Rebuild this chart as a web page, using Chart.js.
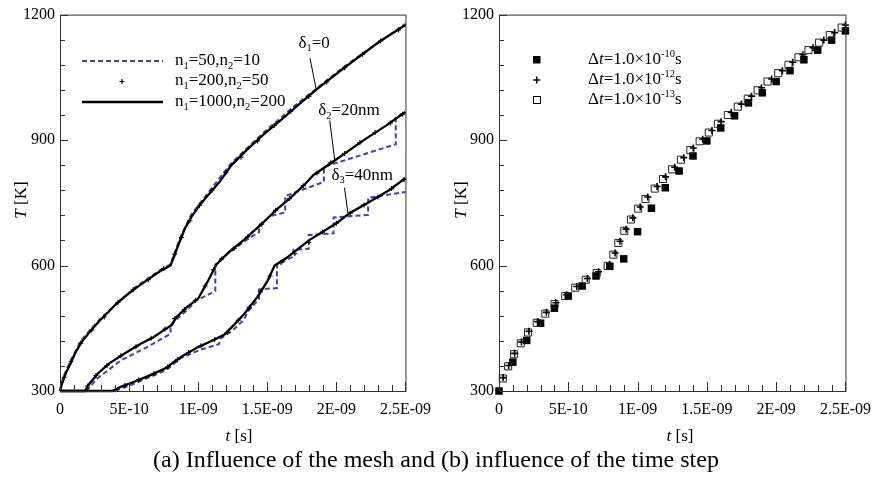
<!DOCTYPE html>
<html>
<head>
<meta charset="utf-8">
<script src="https://cdn.jsdelivr.net/npm/chart.js@4.4.0/dist/chart.umd.min.js"></script>
<style>
  body { margin: 0; background: #fff; }
  #wrap { position: relative; width: 880px; height: 482px; }
  canvas { position: absolute; top: 0; }
  #left { left: 0; }
  #right { left: 440px; }
  #caption { position: absolute; top: 446px; left: 0; width: 872px; text-align: center;
             font: 24px 'Liberation Serif', serif; line-height: 26px; color: #000; }
</style>
</head>
<body>
<div id="wrap">
  <canvas id="left" width="440" height="450"></canvas>
  <canvas id="right" width="440" height="450"></canvas>
  <div id="caption">(a) Influence of the mesh and (b) influence of the time step</div>
</div>
<script>
// axis ticks (time in units of 1e-9 s)
const xTicks = [0, 0.5, 1, 1.5, 2, 2.5];
const xTickLabels = ['0', '5E-10', '1E-09', '1.5E-09', '2E-09', '2.5E-09'];
const yTicks = [300, 600, 900, 1200];
const yTickLabels = ['300', '600', '900', '1200'];

// (a) n1=1000,n2=200 solid lines
const d1FineT = [0, 0.012, 0.024, 0.045, 0.071, 0.11, 0.155, 0.226, 0.286, 0.35, 0.405, 0.47, 0.536, 0.63, 0.726, 0.80, 0.835, 0.869, 0.905, 0.952, 1.012, 1.071, 1.155, 1.238, 1.35, 1.476, 1.6, 1.714, 1.857, 2.071, 2.31, 2.5];
const d1FineK = [300, 315, 326, 345, 362, 391, 417, 445, 468, 489, 508, 526, 543, 565, 587, 600, 630, 660, 689, 717, 745, 768, 800, 839, 876, 914, 948, 981, 1021, 1076, 1135, 1175];
const d2FineT = [0, 0.179, 0.214, 0.274, 0.357, 0.464, 0.584, 0.679, 0.762, 0.81, 0.84, 0.916, 1.0, 1.071, 1.131, 1.214, 1.333, 1.452, 1.571, 1.667, 1.774, 1.833, 1.988, 2.19, 2.357, 2.5];
const d2FineK = [300, 300, 318, 342, 366, 389, 413, 429, 448, 458, 476, 500, 521, 563, 602, 630, 662, 697, 735, 762, 795, 816, 851, 898, 934, 967];
const d3FineT = [0, 0.381, 0.44, 0.536, 0.655, 0.774, 0.821, 0.893, 1.0, 1.1, 1.19, 1.25, 1.333, 1.429, 1.5, 1.553, 1.643, 1.762, 1.81, 2.0, 2.095, 2.238, 2.381, 2.5];
const d3FineK = [300, 300, 310, 322, 338, 356, 369, 385, 405, 420, 435, 455, 484, 525, 562, 600, 619, 650, 662, 701, 725, 752, 780, 809];

// (a) n1=200,n2=50 crosses
const d1MidT = [0.03, 0.08, 0.15, 0.23, 0.32, 0.42, 0.53, 0.64, 0.75, 0.83, 0.88, 0.94, 1.01, 1.1, 1.2, 1.31, 1.43, 1.55, 1.67, 1.8, 1.93, 2.06, 2.19, 2.32, 2.45];
const d1MidK = [333, 370, 414, 446, 477, 512, 542, 566, 593, 627, 667, 707, 744, 780, 822, 859, 898, 935, 969, 1004, 1039, 1073, 1105, 1137, 1163];
const d2MidT = [0.2, 0.26, 0.34, 0.44, 0.55, 0.66, 0.76, 0.83, 0.9, 0.98, 1.05, 1.11, 1.17, 1.26, 1.36, 1.46, 1.56, 1.66, 1.76, 1.86, 1.96, 2.06, 2.17, 2.28, 2.39, 2.48];
const d2MidK = [312, 337, 361, 384, 406, 426, 448, 473, 495, 517, 551, 590, 616, 641, 669, 699, 732, 760, 791, 821, 846, 868, 894, 918, 941, 962];
const d3MidT = [0.4, 0.47, 0.57, 0.68, 0.78, 0.85, 0.93, 1.02, 1.12, 1.21, 1.29, 1.37, 1.45, 1.52, 1.6, 1.7, 1.8, 1.9, 2.0, 2.1, 2.2, 2.3, 2.4, 2.49];
const d3MidK = [303, 313, 327, 342, 358, 375, 392, 408, 423, 440, 469, 500, 537, 575, 607, 628, 655, 680, 701, 725, 745, 764, 784, 806];

// (a) n1=50,n2=10 dashed (coarse, stepped)
const d1CoarseT = [0, 0.02, 0.07, 0.155, 0.29, 0.54, 0.73, 0.80, 0.87, 0.95, 1.07, 1.24, 1.48, 1.71, 2.07, 2.5];
const d1CoarseK = [300, 330, 368, 422, 472, 547, 590, 603, 667, 722, 773, 845, 920, 985, 1079, 1178];
const d2CoarseT = [0.19, 0.27, 0.44, 0.63, 0.80, 0.80, 0.86, 0.94, 0.98, 1.124, 1.124, 1.21, 1.33, 1.44, 1.44, 1.52, 1.63, 1.63, 1.91, 1.91, 2.43, 2.43, 2.5];
const d2CoarseK = [300, 330, 373, 405, 437, 458, 476, 500, 515, 539, 602, 627, 657, 680, 696, 718, 727, 766, 800, 836, 890, 954, 967];
const d3CoarseT = [0.40, 0.54, 0.77, 0.87, 1.01, 1.15, 1.16, 1.25, 1.33, 1.36, 1.44, 1.44, 1.57, 1.57, 1.68, 1.69, 1.80, 1.80, 1.98, 1.98, 2.23, 2.23, 2.5];
const d3CoarseK = [300, 318, 350, 378, 398, 412, 425, 445, 470, 490, 520, 543, 546, 602, 620, 638, 640, 673, 677, 715, 721, 762, 776];

// (b) dt = 1e-10 s, 1e-12 s, 1e-13 s
const dt10T = [0, 0.1, 0.2, 0.3, 0.4, 0.5, 0.6, 0.7, 0.8, 0.9, 1.0, 1.1, 1.2, 1.3, 1.4, 1.5, 1.6, 1.7, 1.8, 1.9, 2.0, 2.1, 2.2, 2.3, 2.4, 2.5];
const dt10K = [300, 369, 421, 462, 498, 527, 551, 575, 598, 616, 681, 737, 786, 826, 862, 898, 929, 958, 989, 1013, 1040, 1066, 1092, 1115, 1139, 1161];
const dt12T = [0.03, 0.07, 0.113, 0.162, 0.216, 0.279, 0.342, 0.41, 0.488, 0.561, 0.638, 0.718, 0.798, 0.838, 0.873, 0.917, 0.966, 1.019, 1.073, 1.141, 1.202, 1.268, 1.333, 1.402, 1.470, 1.537, 1.603, 1.676, 1.749, 1.822, 1.894, 1.967, 2.045, 2.12, 2.193, 2.266, 2.344, 2.422, 2.5];
const dt12K = [332, 361, 390, 417, 443, 466, 488, 511, 530, 550, 569, 585, 603, 630, 658, 687, 714, 740, 764, 789, 812, 835, 858, 881, 902, 923, 944, 966, 986, 1005, 1025, 1046, 1066, 1086, 1104, 1121, 1139, 1157, 1175];
const dt13T = [0.027, 0.066, 0.109, 0.157, 0.210, 0.272, 0.334, 0.401, 0.478, 0.550, 0.626, 0.705, 0.784, 0.825, 0.861, 0.904, 0.952, 1.004, 1.057, 1.124, 1.184, 1.249, 1.313, 1.381, 1.448, 1.514, 1.579, 1.651, 1.723, 1.795, 1.866, 1.938, 2.015, 2.089, 2.161, 2.233, 2.310, 2.387, 2.473];
const dt13K = [330, 359, 388, 414, 440, 463, 485, 508, 527, 547, 566, 582, 599, 626, 654, 683, 710, 736, 759, 784, 807, 830, 853, 876, 897, 918, 939, 960, 980, 999, 1019, 1040, 1060, 1080, 1098, 1115, 1133, 1151, 1169];

const FONT = "'Liberation Serif', 'Times New Roman', serif";
const BLUE = '#3b43b2';

function pts(ts, ks) {
    return ts.map((t, i) => ({ x: t, y: ks[i] }));
}

// draw text made of pieces: '' normal, 'i' italic, 'sub', 'sup'
function drawRich(ctx, x, y, parts, size, measureOnly) {
    let cx = x;
    parts.forEach(([txt, st]) => {
        let fs = size, dy = 0, style = '';
        if (st === 'sub') { fs = size * 0.62; dy = size * 0.3; }
        if (st === 'sup') { fs = size * 0.62; dy = -size * 0.36; }
        if (st === 'i') style = 'italic ';
        ctx.font = style + fs + 'px ' + FONT;
        if (!measureOnly) ctx.fillText(txt, cx, y + dy);
        cx += ctx.measureText(txt).width;
    });
    return cx - x;
}

function drawAxisTitles(ctx, xc, yc, ytx, yty) {
    ctx.fillStyle = '#000';
    ctx.textBaseline = 'middle';
    const xt = [['t', 'i'], [' [s]', '']];
    const w = drawRich(ctx, 0, 0, xt, 17, true);
    drawRich(ctx, xc - w / 2, yc, xt, 17);
    const yt = [['T', 'i'], [' [K]', '']];
    const wy = drawRich(ctx, 0, 0, yt, 17, true);
    ctx.save();
    ctx.translate(ytx, yty);
    ctx.rotate(-Math.PI / 2);
    drawRich(ctx, -wy / 2, 0, yt, 17);
    ctx.restore();
}

// frame, inward ticks
const framePlugin = {
    id: 'frame',
    afterDatasetsDraw(chart) {
        const { ctx, chartArea: a, scales: { x, y } } = chart;
        ctx.save();
        ctx.strokeStyle = '#333';
        ctx.lineWidth = 1;
        ctx.strokeRect(a.left + 0.5, a.top + 0.5, a.right - a.left, a.bottom - a.top);
        ctx.beginPath();
        for (let i = 0; i <= 25; i++) {
            const px = Math.round(x.getPixelForValue(i / 10)) + 0.5;
            const len = i % 5 === 0 ? 9 : 6;
            ctx.moveTo(px, a.bottom);
            ctx.lineTo(px, a.bottom - len);
        }
        for (let i = 0; i <= 15; i++) {
            const py = Math.round(y.getPixelForValue(300 + i * 60)) + 0.5;
            const len = i % 5 === 0 ? 8 : 5;
            ctx.moveTo(a.left, py);
            ctx.lineTo(a.left + len, py);
        }
        ctx.stroke();
        ctx.restore();
    }
};

function makeOptions(yWidth, padRight) {
    return {
        responsive: false,
        animation: false,
        layout: { padding: { top: 11, right: padRight, bottom: 0, left: 0 } },
        plugins: { legend: { display: false }, tooltip: { enabled: false } },
        scales: {
            x: {
                type: 'linear', min: 0, max: 2.5,
                grid: { display: false, drawTicks: false },
                border: { display: false },
                afterFit: s => { s.height = 59; },
                afterBuildTicks: s => { s.ticks = xTicks.map(v => ({ value: v })); },
                ticks: {
                    autoSkip: false, maxRotation: 0, padding: 9, color: '#000',
                    font: { family: FONT, size: 16 },
                    callback: v => xTickLabels[xTicks.indexOf(v)]
                }
            },
            y: {
                min: 300, max: 1200,
                grid: { display: false, drawTicks: false },
                border: { display: false },
                afterFit: s => { s.width = yWidth; },
                afterBuildTicks: s => { s.ticks = yTicks.map(v => ({ value: v })); },
                ticks: {
                    padding: 5, color: '#000',
                    font: { family: FONT, size: 16 },
                    callback: v => yTickLabels[yTicks.indexOf(v)]
                }
            }
        }
    };
}

// ---------- (a) mesh ----------
const deltaNotes = [
    { parts: [['δ', ''], ['1', 'sub'], ['=0', '']], text: [1.726, 1131], from: [1.809, 1096], to: [1.857, 1017] },
    { parts: [['δ', ''], ['2', 'sub'], ['=20nm', '']], text: [1.869, 970], from: [1.952, 947], to: [1.988, 853] },
    { parts: [['δ', ''], ['3', 'sub'], ['=40nm', '']], text: [1.964, 816], from: [2.059, 786], to: [2.084, 725] }
];

const leftExtras = {
    id: 'leftExtras',
    afterDraw(chart) {
        const { ctx, scales: { x, y } } = chart;
        ctx.save();
        // legend
        ctx.lineWidth = 2;
        ctx.strokeStyle = BLUE;
        ctx.setLineDash([5, 3]);
        ctx.beginPath(); ctx.moveTo(82, 61); ctx.lineTo(163, 61); ctx.stroke();
        ctx.setLineDash([]);
        ctx.strokeStyle = '#000';
        ctx.lineWidth = 1.2;
        ctx.beginPath();
        ctx.moveTo(119.5, 81.5); ctx.lineTo(124.5, 81.5);
        ctx.moveTo(122, 79); ctx.lineTo(122, 84);
        ctx.stroke();
        ctx.lineWidth = 2.3;
        ctx.beginPath(); ctx.moveTo(82, 102); ctx.lineTo(163, 102); ctx.stroke();
        ctx.fillStyle = '#000';
        ctx.textBaseline = 'middle';
        drawRich(ctx, 175, 61, [['n', ''], ['1', 'sub'], ['=50,n', ''], ['2', 'sub'], ['=10', '']], 17);
        drawRich(ctx, 175, 81, [['n', ''], ['1', 'sub'], ['=200,n', ''], ['2', 'sub'], ['=50', '']], 17);
        drawRich(ctx, 175, 102, [['n', ''], ['1', 'sub'], ['=1000,n', ''], ['2', 'sub'], ['=200', '']], 17);
        // delta labels with leaders
        ctx.lineWidth = 1;
        deltaNotes.forEach(n => {
            drawRich(ctx, x.getPixelForValue(n.text[0]), y.getPixelForValue(n.text[1]), n.parts, 17);
            ctx.beginPath();
            ctx.moveTo(x.getPixelForValue(n.from[0]), y.getPixelForValue(n.from[1]));
            ctx.lineTo(x.getPixelForValue(n.to[0]), y.getPixelForValue(n.to[1]));
            ctx.stroke();
        });
        drawAxisTitles(ctx, 239, 437, 22, 200);
        ctx.restore();
    }
};

function fineLine(ts, ks) {
    return { data: pts(ts, ks), borderColor: '#000', borderWidth: 2.3, pointRadius: 0,
             tension: 0, clip: false };
}
function midCross(ts, ks) {
    return { data: pts(ts, ks), showLine: false, pointStyle: 'cross', pointRadius: 2.5,
             borderColor: '#000', borderWidth: 1.1, clip: false };
}
function coarseLine(ts, ks) {
    return { data: pts(ts, ks), borderColor: BLUE, borderWidth: 2, borderDash: [5, 3],
             pointRadius: 0, tension: 0, clip: false };
}

new Chart(document.getElementById('left'), {
    type: 'line',
    data: {
        datasets: [
            fineLine(d1FineT, d1FineK), fineLine(d2FineT, d2FineK), fineLine(d3FineT, d3FineK),
            midCross(d1MidT, d1MidK), midCross(d2MidT, d2MidK), midCross(d3MidT, d3MidK),
            coarseLine(d1CoarseT, d1CoarseK), coarseLine(d2CoarseT, d2CoarseK), coarseLine(d3CoarseT, d3CoarseK)
        ]
    },
    options: makeOptions(60, 30),
    plugins: [framePlugin, leftExtras]
});

// ---------- (b) time step ----------
const rightExtras = {
    id: 'rightExtras',
    afterDraw(chart) {
        const { ctx } = chart;
        ctx.save();
        ctx.fillStyle = '#000';
        ctx.fillRect(93, 56, 7.5, 7.5);
        ctx.strokeStyle = '#000';
        ctx.lineWidth = 1.6;
        ctx.beginPath();
        ctx.moveTo(93.2, 80); ctx.lineTo(100.2, 80);
        ctx.moveTo(96.7, 76.5); ctx.lineTo(96.7, 83.5);
        ctx.stroke();
        ctx.lineWidth = 1;
        ctx.strokeRect(93.5, 96.5, 7, 7);
        ctx.textBaseline = 'middle';
        const tail = s => [['Δ', ''], ['t', 'i'], ['=1.0×10', ''], [s, 'sup'], ['s', '']];
        drawRich(ctx, 148, 60, tail('-10'), 17);
        drawRich(ctx, 148, 80, tail('-12'), 17);
        drawRich(ctx, 148, 100, tail('-13'), 17);
        drawAxisTitles(ctx, 240, 437, 22, 200);
        ctx.restore();
    }
};

new Chart(document.getElementById('right'), {
    type: 'scatter',
    data: {
        datasets: [
            { data: pts(dt12T, dt12K), pointStyle: 'cross', pointRadius: 3.5, borderColor: '#000',
              borderWidth: 1.6, clip: false },
            { data: pts(dt13T, dt13K), pointStyle: 'rect', pointRadius: 5, borderColor: '#222',
              backgroundColor: 'rgba(0,0,0,0)', borderWidth: 1, clip: false },
            { data: pts(dt10T, dt10K), pointStyle: 'rect', pointRadius: 5.3, borderColor: '#000',
              backgroundColor: '#000', borderWidth: 0, clip: false }
        ]
    },
    options: makeOptions(59, 33),
    plugins: [framePlugin, rightExtras]
});
</script>
</body>
</html>
